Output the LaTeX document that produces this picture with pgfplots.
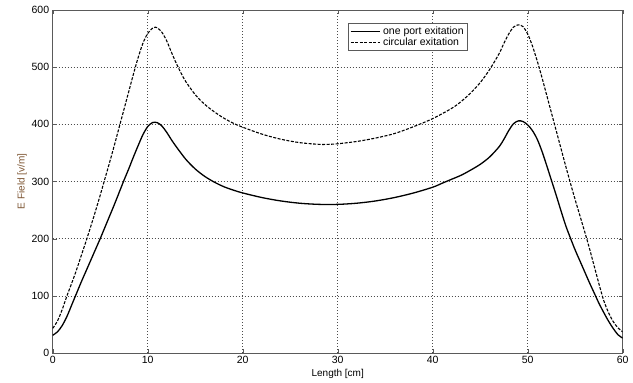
\documentclass[border=0pt]{standalone}
\usepackage{pgfplots}
\pgfplotsset{compat=1.18}
\usepackage{fontspec}
\setmainfont{Liberation Sans}
\definecolor{ylab}{RGB}{125,85,50}
\definecolor{axgray}{RGB}{90,90,90}
\begin{document}
\begin{tikzpicture}
\begin{axis}[
  scale only axis,
  width=570pt, height=343pt,
  xmin=0, xmax=60, ymin=0, ymax=600,
  xtick={0,10,...,60}, ytick={0,100,...,600},
  grid=major,
  major grid style={dash pattern=on 1pt off 2pt, line width=0.6pt, color=black!70},
  axis line style={color=axgray, line width=0.8pt},
  tick style={color=axgray},
  tick align=inside,
  major tick length=4pt,
  ticklabel style={font=\fontsize{10.5}{12}\selectfont},
  /pgf/number format/assume math mode=true,
  xlabel={Length [cm]},
  ylabel={E Field [v/m]},
  xlabel style={font=\fontsize{10}{12}\selectfont, yshift=2pt},
  ylabel style={font=\fontsize{10}{12}\selectfont, color=ylab, yshift=-2pt},
  legend style={at={(axis cs:31.1,577)}, anchor=north west, font=\fontsize{10.5}{12}\selectfont,
     draw=axgray, line width=0.6pt, inner sep=1.5pt, row sep=-2pt},
  legend cell align=left,
  legend image code/.code={\draw[#1] (0cm,0cm) -- (1.05cm,0cm);},
]
\addplot[black, line width=1.3pt, smooth] coordinates {
(0,31) (0.5,37) (1,48) (1.5,64) (2,84) (2.5,104) (3,124) (3.5,143) (4,162) (4.5,181)
(5,200) (5.5,220) (6,240) (6.5,260) (7,281) (7.5,302) (8,322) (8.5,343) (9,363) (9.5,382)
(10,396) (10.5,403) (11,403) (11.5,397) (12,386) (12.5,373) (13,361) (14,339) (15,322) (16,309)
(17,299) (18,291) (19,285) (20,280) (22,272) (24,266) (26,262) (28,260) (30,260) (32,262)
(34,266) (36,272) (38,280) (40,290) (41,297) (42,304) (43,311) (44,320) (45,330) (46,343)
(47,361) (47.5,374) (48,389) (48.5,401) (49,406) (49.5,405) (50,399) (50.5,389) (51,374)
(51.5,353) (52,328) (52.5,302) (53,276) (53.5,249) (54,223) (54.5,201) (55,180) (55.5,161)
(56,142) (56.5,123) (57,105) (57.5,87) (58,71) (58.5,56) (59,43) (59.5,32) (60,26)
};
\addlegendentry{one port exitation}
\addplot[black, line width=1.1pt, dash pattern=on 3pt off 1.5pt, smooth] coordinates {
(0,43) (0.5,56) (1,76) (1.5,100) (2,122) (2.5,145) (3,170) (3.5,195) (4,221) (4.5,248)
(5,276) (5.5,305) (6,334) (6.5,364) (7,395) (7.5,426) (8,457) (8.5,488) (9,517) (9.5,542)
(10,559) (10.5,568) (10.8,570) (11,569) (11.5,561) (12,546) (12.5,526) (13,507) (13.5,490)
(14,475) (15,452) (16,435) (17,422) (18,411) (19,402) (20,395) (22,383) (24,374) (26,368)
(28,365) (29,365) (30,366) (32,370) (34,376) (36,384) (38,396) (40,410) (42,428) (43,440)
(44,455) (45,473) (46,496) (47,524) (47.5,542) (48,558) (48.5,570) (49,574) (49.5,571)
(50,558) (50.5,537) (51,511) (51.5,482) (52,451) (52.5,420) (53,389) (53.5,358) (54,327)
(54.5,297) (55,268) (55.5,240) (56,212) (56.5,183) (57,152) (57.5,121) (58,92) (58.5,71)
(59,55) (59.5,44) (60,37)
};
\addlegendentry{circular exitation}
\end{axis}
\path[use as bounding box] (-52.7pt,-30pt) rectangle (580.3pt,353pt);
\end{tikzpicture}
\end{document}
